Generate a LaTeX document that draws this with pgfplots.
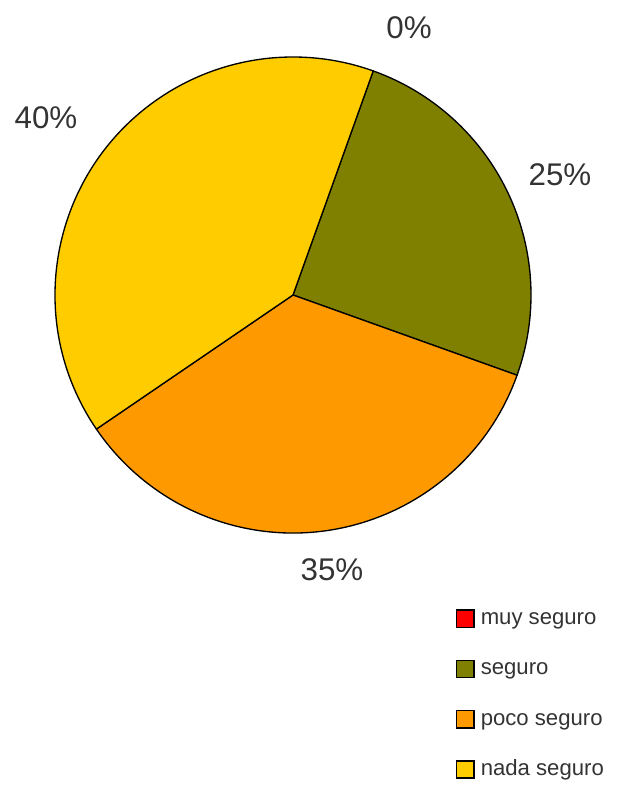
\documentclass[border=0pt]{standalone}
\usepackage{fontspec}
\setmainfont{Liberation Sans}
\usepackage{pgfplots}
\pgfplotsset{compat=1.18}
\definecolor{cmuy}{HTML}{FF0000}
\definecolor{cseg}{HTML}{808000}
\definecolor{cpoco}{HTML}{FF9900}
\definecolor{cnada}{HTML}{FFCC00}
\definecolor{txt}{HTML}{333333}
% data (percent)
\def\vMuy{0}\def\vSeg{25}\def\vPoco{35}\def\vNada{40}
\pgfmathsetmacro\aA{70.3}
\pgfmathsetmacro\aB{\aA-3.6*\vMuy}
\pgfmathsetmacro\aC{\aB-3.6*\vSeg}
\pgfmathsetmacro\aD{\aC-3.6*\vPoco}
\pgfmathsetmacro\aE{\aD-3.6*\vNada}
\def\R{178.5pt}
\pgfplotsset{sqlegend/.style={legend image code/.code={\draw[##1] (0pt,-6.5pt) rectangle (13pt,6.5pt);}}}
\begin{document}
\begin{tikzpicture}
\begin{axis}[
  scale only axis, width=465pt, height=588.75pt,
  xmin=0, xmax=620, ymin=0, ymax=785,
  hide axis, clip=false,
  legend cell align=left,
  legend style={draw=none, fill=none, at={(axis cs:456,177)}, anchor=north west,
    font=\fontsize{16.6}{19}\selectfont, text=txt, row sep=21.7pt, column sep=4pt,
    inner sep=0pt, outer sep=0pt,
    nodes={inner sep=0.5pt, outer sep=0pt, text height=12pt, text depth=3pt}},
]
\path (axis cs:0,0) (axis cs:620,785);
\addlegendimage{sqlegend, fill=cmuy, draw=black, line width=1.1pt}
\addlegendentry{muy seguro}
\addlegendimage{sqlegend, fill=cseg, draw=black, line width=1.1pt}
\addlegendentry{seguro}
\addlegendimage{sqlegend, fill=cpoco, draw=black, line width=1.1pt}
\addlegendentry{poco seguro}
\addlegendimage{sqlegend, fill=cnada, draw=black, line width=1.1pt}
\addlegendentry{nada seguro}
\filldraw[fill=cmuy, draw=black, line width=1pt, line join=round] (axis cs:293,490) -- ++(\aA:\R) arc[start angle=\aA, end angle=\aB, radius=\R] -- cycle;
\filldraw[fill=cseg, draw=black, line width=1pt, line join=round] (axis cs:293,490) -- ++(\aB:\R) arc[start angle=\aB, end angle=\aC, radius=\R] -- cycle;
\filldraw[fill=cpoco, draw=black, line width=1pt, line join=round] (axis cs:293,490) -- ++(\aC:\R) arc[start angle=\aC, end angle=\aD, radius=\R] -- cycle;
\filldraw[fill=cnada, draw=black, line width=1pt, line join=round] (axis cs:293,490) -- ++(\aD:\R) arc[start angle=\aD, end angle=\aE, radius=\R] -- cycle;
\node[text=txt, font=\fontsize{23.5}{26}\selectfont] at (axis cs:409,757) {\vMuy\%};
\node[text=txt, font=\fontsize{23.5}{26}\selectfont] at (axis cs:560,610) {\vSeg\%};
\node[text=txt, font=\fontsize{23.5}{26}\selectfont] at (axis cs:332,215) {\vPoco\%};
\node[text=txt, font=\fontsize{23.5}{26}\selectfont] at (axis cs:46,667) {\vNada\%};
\end{axis}
\end{tikzpicture}
\end{document}
